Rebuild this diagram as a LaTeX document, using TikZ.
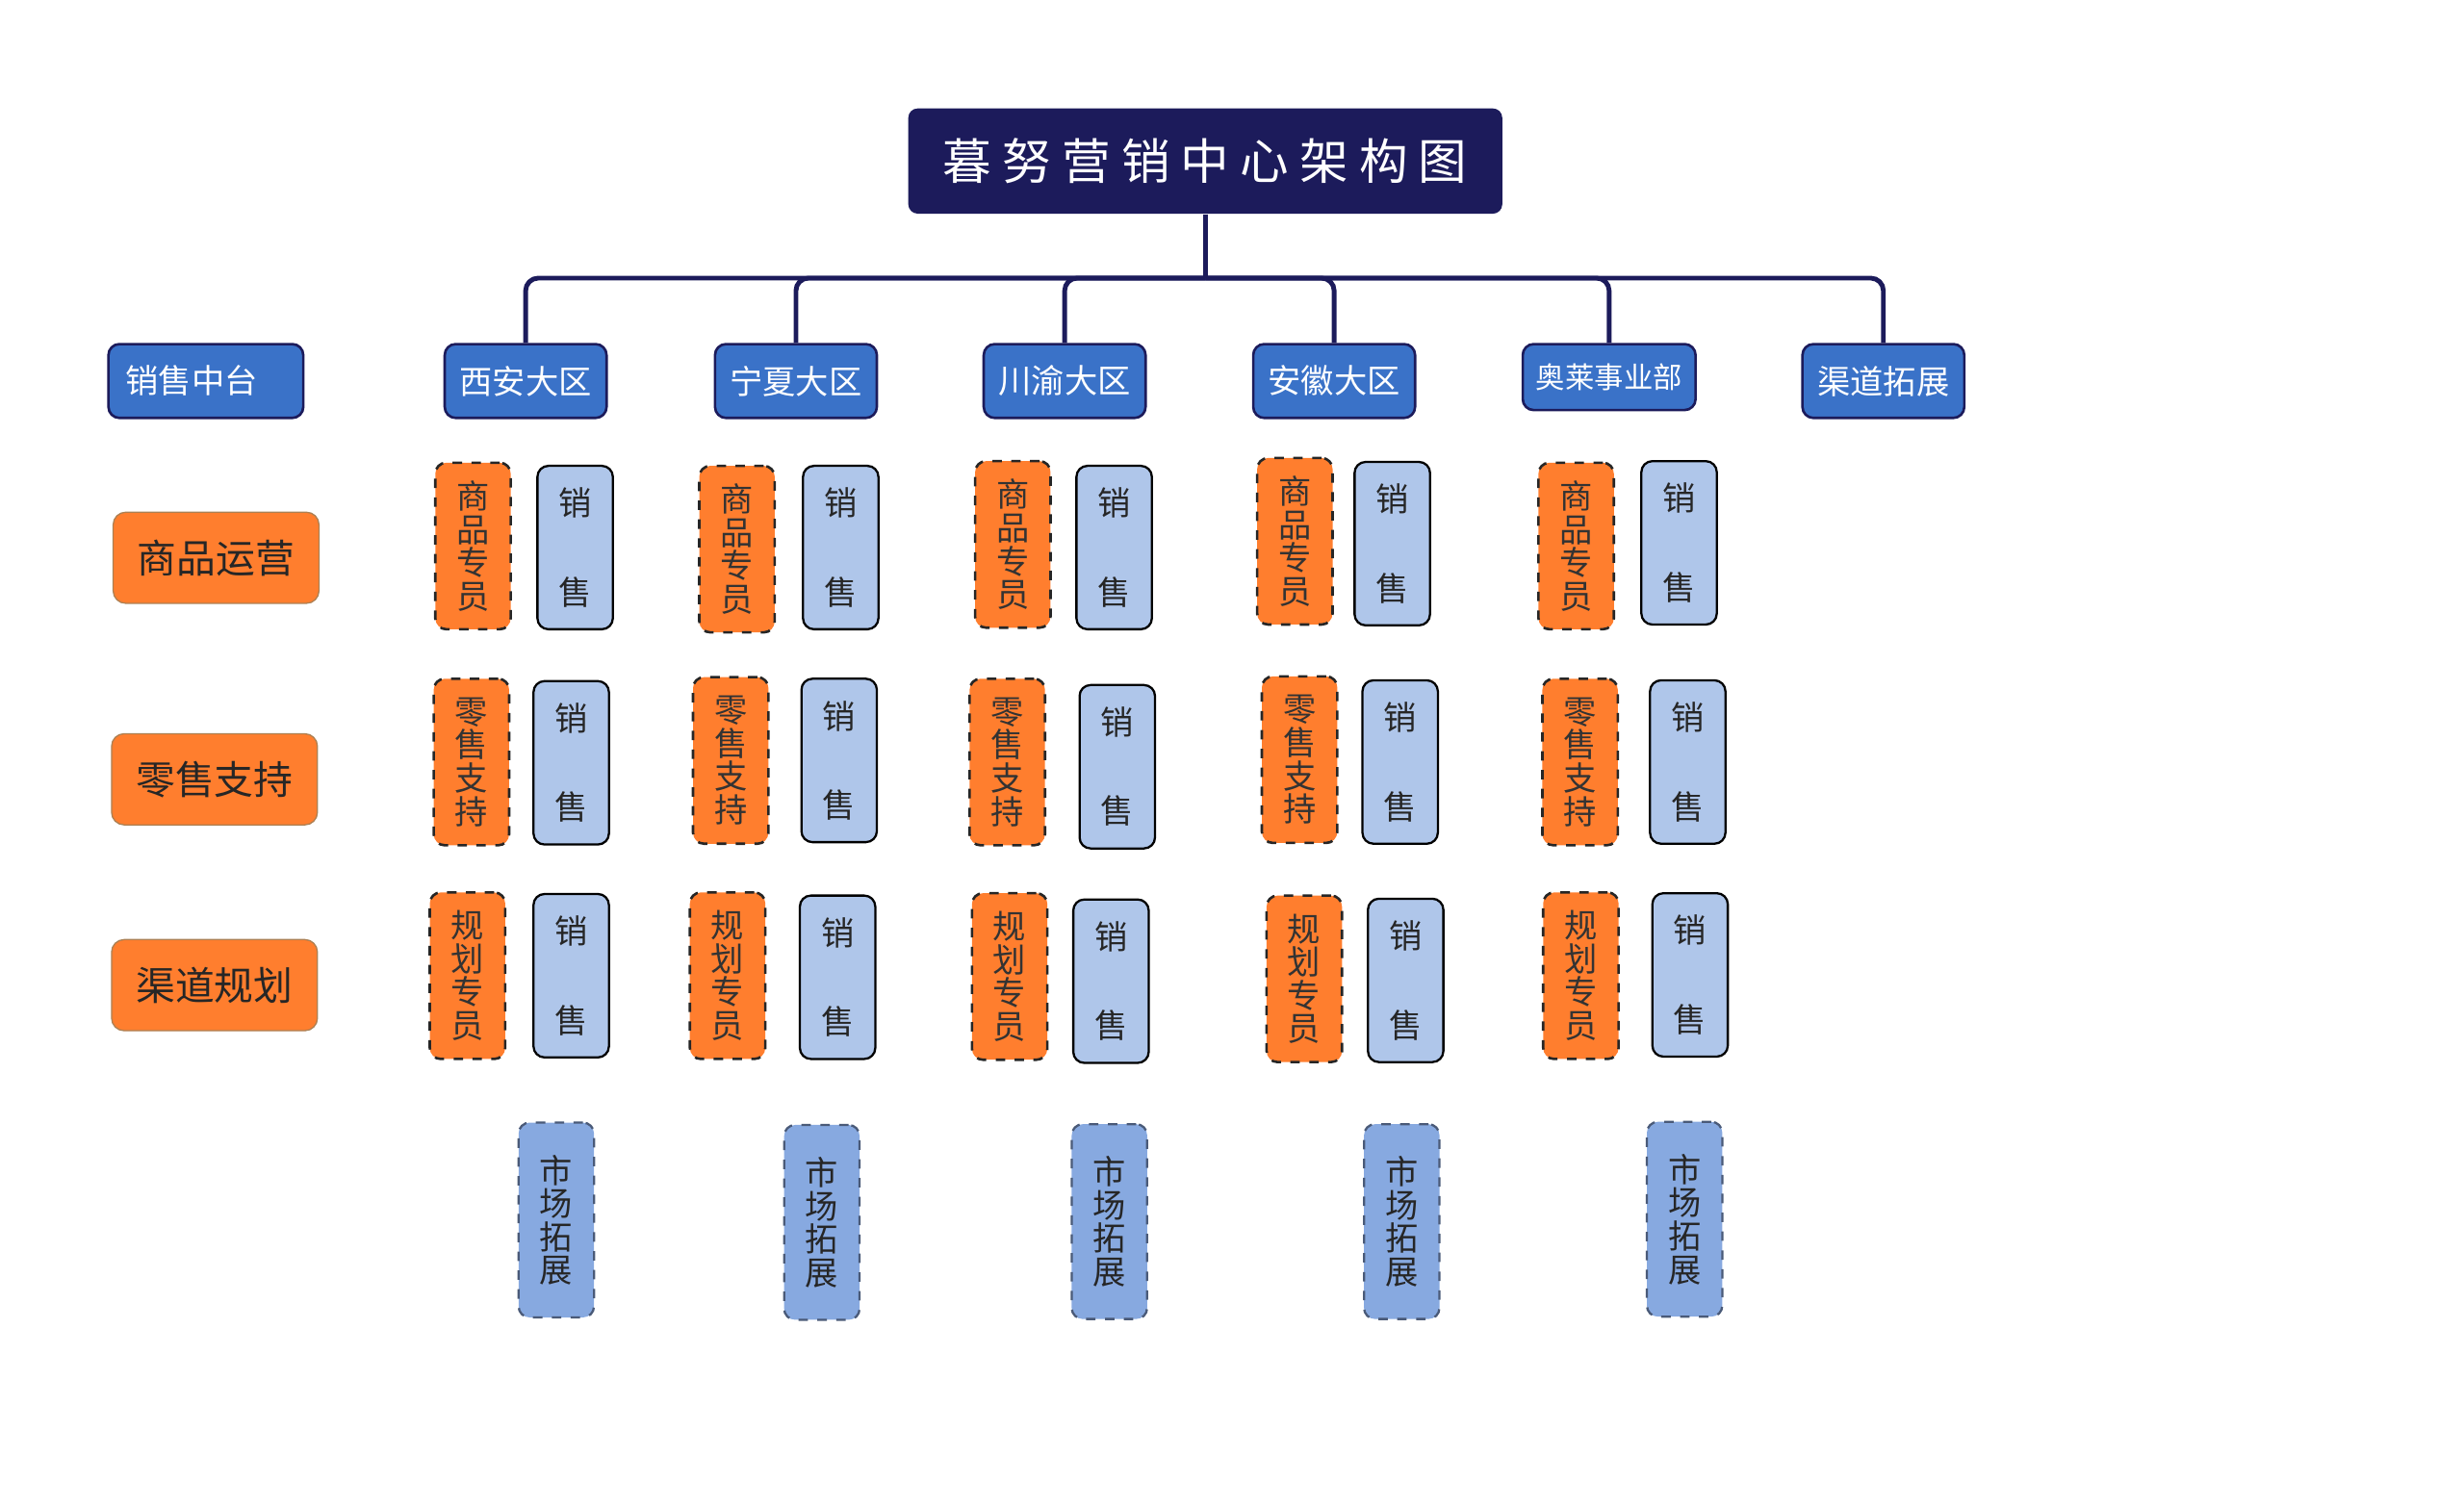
\documentclass[tikz,border=0pt]{standalone}
\usepackage{fontspec}
\newfontfamily\cjk{Noto Sans CJK SC}
\newfontfamily\cjktitle[LetterSpace=22]{Noto Sans CJK SC}
\definecolor{navy}{HTML}{1C1B5B}
\definecolor{hdblue}{HTML}{3A72C8}
\definecolor{orng}{HTML}{FF7E2E}
\definecolor{ltblue}{HTML}{AFC6EA}
\definecolor{mdblue}{HTML}{87A9E0}
\definecolor{slate}{HTML}{4A5A78}
\tikzset{
  titlebox/.style={fill=navy, text=white, rounded corners=3pt, minimum width=189pt, minimum height=33.5pt, inner sep=0pt, font=\cjktitle\fontsize{15.5}{17}\selectfont},
  headbox/.style={draw=navy, fill=hdblue, text=white, line width=0.8pt, rounded corners=3.5pt, minimum width=51.5pt, minimum height=23.5pt, inner sep=0pt, font=\cjk\fontsize{10.5}{12}\selectfont},
  rowbox/.style={draw=brown!70!gray, fill=orng, text=black!85, rounded corners=4pt, minimum width=65.5pt, minimum height=29pt, inner sep=0pt, font=\cjk\fontsize{12.5}{14}\selectfont},
  postbox/.style={draw=black!85, dashed, line width=0.8pt, fill=orng, text=black!80, rounded corners=3.5pt, minimum width=24pt, minimum height=53pt, inner sep=0pt, align=center, font=\cjk\fontsize{10.5}{10.6}\selectfont},
  salebox/.style={draw=black, fill=ltblue, text=black!85, line width=0.7pt, rounded corners=3.5pt, minimum width=24pt, minimum height=52pt, inner sep=0pt, align=center, font=\cjk\fontsize{10.5}{10.6}\selectfont},
  marketbox/.style={draw=slate, dashed, line width=0.7pt, fill=mdblue, text=black!85, rounded corners=3.5pt, minimum width=24pt, minimum height=62pt, inner sep=0pt, align=center, font=\cjk\fontsize{10.5}{10.6}\selectfont},
  link/.style={draw=navy, line width=1.5pt, rounded corners=4pt}
}
\newcommand{\sale}{销\\[17.7pt]售}
\begin{document}
\begin{tikzpicture}[x=0.5pt, y=-0.5pt]
\useasboundingbox (0,0) rectangle (1568,959);
\node[titlebox] (title) at (767,102.5) {暮努营销中心架构图};
\coordinate (bar) at (767,177);

\node[headbox, minimum width=62pt, text width=51pt, align=left] (zhongtai) at (131,242.5) {销售中台};
\node[headbox] (xian) at (334.5,242.5) {西安大区};
\node[headbox] (ningxia) at (506.5,242.5) {宁夏大区};
\node[headbox] (chuanyu) at (677.5,242.5) {川渝大区};
\node[headbox] (anhui) at (849,242.5) {安徽大区};
\node[headbox, minimum width=55pt, minimum height=21pt, font=\cjk\fontsize{9.3}{11}\selectfont] (aolai) at (1024,240) {奥莱事业部};
\node[headbox] (qudao) at (1198.5,242.5) {渠道拓展};

\draw[link] (title.south) -- (bar);
\foreach \n in {xian,ningxia,chuanyu,anhui,aolai,qudao}
  \draw[link] (bar) -| (\n.north);

\node[rowbox] (yunying) at (137.5,355) {商品运营};
\node[rowbox] (zhichi) at (136.5,496) {零售支持};
\node[rowbox] (guihua) at (136.5,627) {渠道规划};

% xian
\node[postbox] (xa-sp) at (301,347.5) {商\\品\\专\\员};
\node[salebox] (xa-x1) at (366,348.5) {\sale};
\node[postbox] (xa-zc) at (300,485) {零\\售\\支\\持};
\node[salebox] (xa-x2) at (363.5,485.5) {\sale};
\node[postbox] (xa-gh) at (297.5,621) {规\\划\\专\\员};
\node[salebox] (xa-x3) at (363.5,621) {\sale};
\node[marketbox] (xa-sc) at (354,776.5) {市\\场\\拓\\展};

% ningxia
\node[postbox] (nx-sp) at (469,349.5) {商\\品\\专\\员};
\node[salebox] (nx-x1) at (535,348.5) {\sale};
\node[postbox] (nx-zc) at (465,484) {零\\售\\支\\持};
\node[salebox] (nx-x2) at (534,484) {\sale};
\node[postbox] (nx-gh) at (463,621) {规\\划\\专\\员};
\node[salebox] (nx-x3) at (533,622) {\sale};
\node[marketbox] (nx-sc) at (523,778) {市\\场\\拓\\展};

% chuanyu
\node[postbox] (cy-sp) at (644.5,346.5) {商\\品\\专\\员};
\node[salebox] (cy-x1) at (709,348.5) {\sale};
\node[postbox] (cy-zc) at (641,485) {零\\售\\支\\持};
\node[salebox] (cy-x2) at (711,488) {\sale};
\node[postbox] (cy-gh) at (642.5,621.5) {规\\划\\专\\员};
\node[salebox] (cy-x3) at (707,624.5) {\sale};
\node[marketbox] (cy-sc) at (706,777.5) {市\\场\\拓\\展};

% anhui
\node[postbox] (ah-sp) at (824,344.5) {商\\品\\专\\员};
\node[salebox] (ah-x1) at (886,346) {\sale};
\node[postbox] (ah-zc) at (827,483.5) {零\\售\\支\\持};
\node[salebox] (ah-x2) at (891,485) {\sale};
\node[postbox] (ah-gh) at (830,623) {规\\划\\专\\员};
\node[salebox] (ah-x3) at (894.5,624) {\sale};
\node[marketbox] (ah-sc) at (892,777.5) {市\\场\\拓\\展};

% aolai
\node[postbox] (al-sp) at (1003,347.5) {商\\品\\专\\员};
\node[salebox] (al-x1) at (1068.5,345.5) {\sale};
\node[postbox] (al-zc) at (1005.5,485) {零\\售\\支\\持};
\node[salebox] (al-x2) at (1074,485) {\sale};
\node[postbox] (al-gh) at (1006,621) {规\\划\\专\\员};
\node[salebox] (al-x3) at (1075.5,620.5) {\sale};
\node[marketbox] (al-sc) at (1072,776) {市\\场\\拓\\展};
\end{tikzpicture}
\end{document}
